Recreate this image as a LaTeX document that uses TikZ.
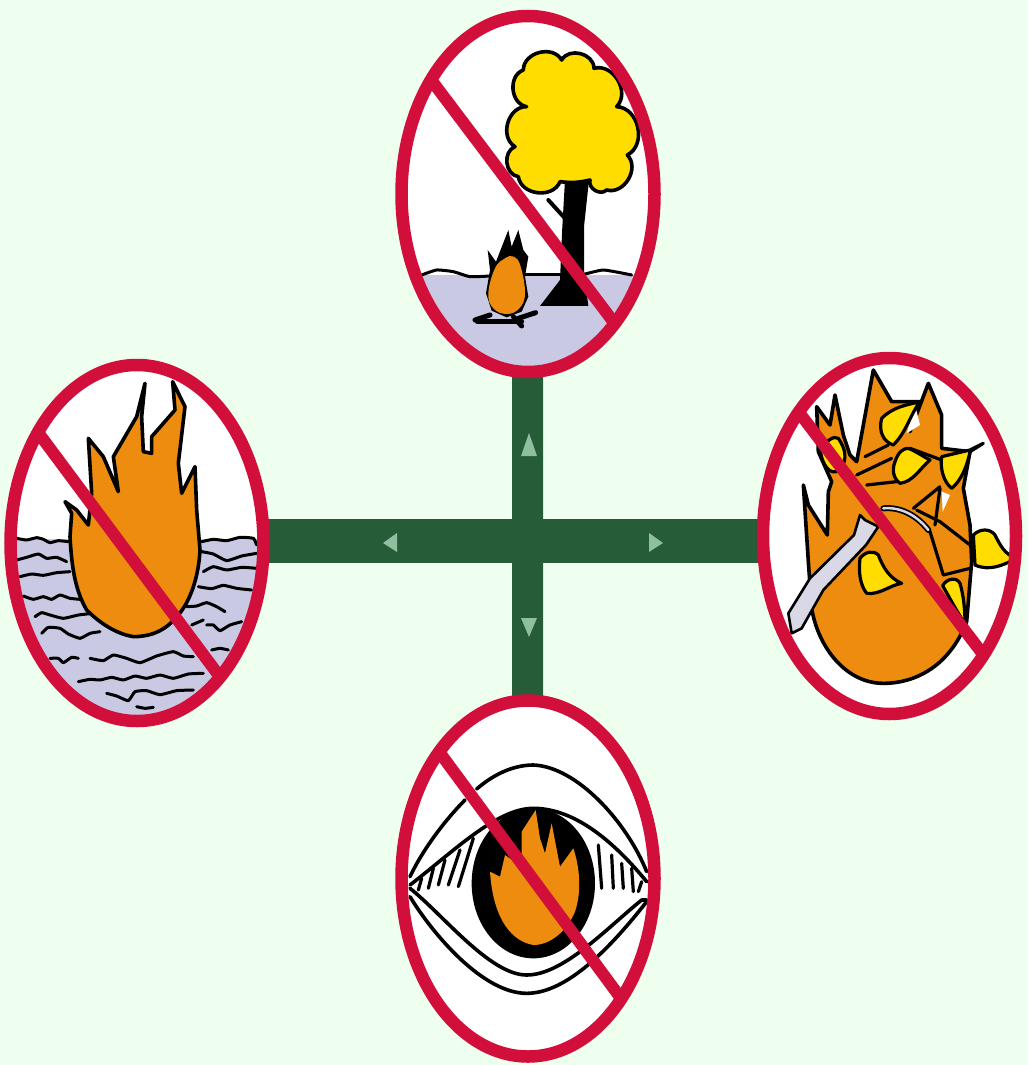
\documentclass[tikz,border=0pt]{standalone}
\usetikzlibrary{shapes.geometric}
\definecolor{bgc}{HTML}{EFFFEF}
\definecolor{barc}{HTML}{265C38}
\definecolor{tric}{HTML}{8FBFA0}
\definecolor{redc}{HTML}{D20F3A}
\definecolor{orangec}{HTML}{EE8C10}
\definecolor{yellowc}{HTML}{FFDD00}
\definecolor{lavc}{HTML}{C9C9E4}
\definecolor{branchc}{HTML}{D8D8E6}
\tikzset{
  sign/.style={ellipse,fill=white,inner sep=0pt,minimum width=253pt,minimum height=356pt},
  ring/.style={draw=redc,line width=12.5pt},
  slash/.style={draw=redc,line width=12pt},
  vbar/.style={draw=barc,line width=31pt},
  hbar/.style={draw=barc,line width=44pt},
  tri/.style={fill=tric},
  traced/.style={x=.33333pt,y=-.33333pt,line join=round,line cap=round},
  ink/.style={draw=black,line width=3.6pt},
  thin ink/.style={draw=black,line width=3.2pt},
  wave/.style={draw=black,line width=3pt},
  lobe/.style={bend left=75,looseness=1.15},
}
\newcommand{\ringat}[1]{\draw[ring] (#1.center) ellipse [x radius=126.5pt,y radius=178pt];}
\newcommand{\clipat}[1]{\clip (#1.center) ellipse [x radius=126.5pt,y radius=178pt];}
\newcommand{\wv}[1]{\draw[wave] plot[smooth,tension=.3] coordinates {#1};}
\begin{document}
\begin{tikzpicture}[x=1pt,y=-1pt]
\useasboundingbox (0,0) rectangle (1028,1065);
\fill[bgc] (0,0) rectangle (1028,1065);
\coordinate (hub) at (527.5,541);
\node[sign] (top) at (528,194) {};
\node[sign] (right) at (889.5,536) {};
\node[sign] (left) at (137,543) {};
\node[sign] (bottom) at (528,878.5) {};
% connectors
\draw[vbar] (hub) -- (top);
\draw[vbar] (hub) -- (bottom);
\draw[hbar] (hub) -- (left.east |- hub);
\draw[hbar] (hub) -- (right.west |- hub);
% arrow marks
\fill[tri] (529,433) -- (537,456) -- (521,456) -- cycle;
\fill[tri] (521,618) -- (537,618) -- (529,637) -- cycle;
\fill[tri] (397,533) -- (397,552) -- (383,543) -- cycle;
\fill[tri] (649,533) -- (649,552) -- (663,543) -- cycle;

% ---------- top: tree and camp fire
\begin{scope}
\clipat{top}
\begin{scope}[shift={(390,0)},traced]
\fill[lavc] (40,825) -- (790,825) -- (790,1140) -- (40,1140) -- cycle;
\wv{(95,825) (140,810) (190,815) (240,830) (300,828)}
\wv{(400,825) (460,825) (530,825)}
\wv{(575,825) (640,810) (725,825)}
\fill[black] (525,540) -- (597,540) -- (582,680) -- (582,810) -- (595,918) -- (450,918) -- (510,840) -- (517,680) -- cycle;
\draw[black,line width=4pt] (475,600) -- (525,655);
\draw[ink,fill=yellowc] (400,210) to[lobe] (515,180) to[lobe] (612,205) to[lobe] (680,320) to[lobe] (712,465) to[lobe] (650,570) to[lobe] (600,540) to[bend left=10] (510,545) to[lobe] (385,530) to[lobe] (375,440) to[lobe] (410,320) to[lobe] (400,210) -- cycle;
\fill[black] (288,880) -- (300,810) -- (293,750) -- (318,785) -- (355,690) -- (365,740) -- (385,690) -- (400,750) -- (415,770) -- (405,830) -- (415,890) -- (395,935) -- (350,952) -- (305,932) -- cycle;
\fill[orangec] plot[smooth cycle,tension=.7] coordinates {(295,880) (315,805) (345,775) (372,770) (392,800) (405,880) (388,925) (350,942) (310,925)};
\draw[black,line width=5pt] (255,960) -- (300,945);
\draw[black,line width=5pt] (262,965) -- (395,965);
\draw[black,line width=5pt] (395,978) -- (370,950);
\draw[black,line width=5pt] (437,938) -- (385,955);
\end{scope}
\end{scope}

% ---------- right: leaves and branch on fire
\begin{scope}
\clipat{right}
\begin{scope}[shift={(750,345)},traced]
\draw[ink,fill=orangec] (160,420) -- (175,480) -- (232,570) -- (235,440) -- (245,410) -- (205,320) -- (200,185) -- (240,240) -- (255,150) -- (280,270) -- (300,330) -- (320,350) -- (370,75) -- (425,170) -- (510,170) -- (480,260) -- (535,115) -- (575,210) -- (575,310) -- (660,320) -- (640,430) -- (660,540) -- (665,650) -- (650,830) .. controls (600,960) and (500,1015) .. (400,1015) .. controls (290,1015) and (205,910) .. (185,790) -- (175,650) -- cycle;
\fill[white] (495,180) -- (470,265) -- (510,240) -- cycle;
\fill[white] (578,500) -- (600,450) -- (575,440) -- cycle;
\draw[thin ink] (320,390) -- (425,340);
\draw[thin ink] (345,335) -- (415,300);
\draw[thin ink] (350,420) -- (440,410);
\draw[thin ink] (480,310) -- (575,345);
\draw[thin ink] (490,490) -- (570,425);
\draw[thin ink] (500,495) -- (570,530) -- (660,600);
\draw[thin ink] (570,430) -- (555,540);
\draw[thin ink] (540,560) -- (580,690) -- (660,670);
\draw[thin ink,fill=yellowc] (395,220) .. controls (430,185) and (470,180) .. (510,170) .. controls (480,210) and (470,260) .. (430,300) .. controls (400,290) and (385,260) .. (395,220) -- cycle;
\draw[thin ink,fill=yellowc] (435,350) .. controls (445,320) and (460,310) .. (475,310) .. controls (500,320) and (520,335) .. (540,345) .. controls (510,370) and (490,410) .. (450,415) .. controls (430,400) and (425,375) .. (435,350) -- cycle;
\draw[thin ink,fill=yellowc] (575,335) -- (660,315) -- (700,295) -- (660,320) .. controls (650,370) and (630,410) .. (605,430) .. controls (580,410) and (570,370) .. (575,335) -- cycle;
\draw[thin ink,fill=yellowc] (670,570) .. controls (690,550) and (720,550) .. (735,570) .. controls (750,600) and (765,630) .. (800,640) .. controls (760,660) and (720,680) .. (675,660) -- cycle;
\draw[thin ink,fill=yellowc] (330,640) .. controls (345,620) and (370,615) .. (385,630) .. controls (400,670) and (420,700) .. (455,715) .. controls (420,720) and (390,750) .. (350,745) .. controls (330,720) and (325,680) .. (330,640) -- cycle;
\draw[thin ink,fill=yellowc] (578,722) .. controls (590,700) and (620,695) .. (630,715) .. controls (640,750) and (645,790) .. (645,835) .. controls (620,800) and (600,760) .. (578,722) -- cycle;
\draw[thin ink,fill=yellowc] (210,310) .. controls (230,290) and (250,270) .. (265,280) .. controls (285,310) and (295,340) .. (270,375) .. controls (240,395) and (215,360) .. (210,310) -- cycle;
\draw[draw=black,line width=2.6pt,fill=branchc] (115,805) -- (180,700) -- (312,570) -- (330,510) -- (345,525) -- (385,545) -- (348,600) -- (220,735) -- (155,850) -- (125,865) -- cycle;
\draw[black,line width=6pt] (400,490) .. controls (450,485) and (500,510) .. (535,555);
\draw[branchc,line width=2.5pt] (400,490) .. controls (450,485) and (500,510) .. (535,555);
\end{scope}
\end{scope}

% ---------- left: flame on water
\begin{scope}
\clipat{left}
\begin{scope}[shift={(0,350)},traced]
\fill[lavc] (0,568) -- (840,568) -- (840,1150) -- (0,1150) -- cycle;
\wv{(50,565) (80,570) (110,563) (130,568) (150,578) (175,572) (205,575)}
\wv{(50,630) (80,622) (115,612) (140,625) (170,622) (200,635)}
\wv{(60,680) (95,672) (130,676) (170,668) (210,665)}
\wv{(70,738) (100,748) (130,740) (155,748) (180,735) (210,745) (240,748)}
\wv{(105,800) (125,788) (150,795) (190,805) (235,795) (280,790)}
\wv{(125,850) (145,832) (180,835) (205,852) (240,865) (270,850) (300,845)}
\wv{(150,925) (175,925) (190,938) (215,922) (235,925)}
\wv{(270,925) (310,932) (340,915) (380,925) (420,938) (470,918) (520,905) (550,918) (580,920)}
\wv{(235,995) (270,988) (300,990) (335,982) (370,990) (405,978) (440,985) (480,975) (520,985) (565,972) (610,970)}
\wv{(320,1030) (350,1038) (385,1052) (405,1025) (440,1022) (480,1034) (530,1022) (580,1020)}
\wv{(410,1070) (435,1075) (460,1072)}
\wv{(605,575) (640,568) (680,572) (720,562) (760,565) (770,585)}
\wv{(605,605) (640,612) (680,632) (725,618) (770,610)}
\wv{(610,665) (640,650) (680,660) (725,652) (770,655)}
\wv{(595,710) (635,716) (670,706) (710,715) (755,720)}
\wv{(560,770) (590,768) (620,758) (650,770) (675,785)}
\wv{(575,825) (610,810)}
\wv{(620,825) (640,825) (660,842) (690,825) (725,815)}
\wv{(635,900) (660,895) (685,900)}
\draw[ink,fill=orangec] (195,455) -- (230,480) -- (265,525) -- (275,430) -- (265,265) -- (310,320) -- (355,425) -- (340,320) -- (410,200) -- (435,100) -- (425,200) -- (430,305) -- (455,310) -- (455,260) -- (525,180) -- (518,95) -- (555,170) -- (535,340) -- (545,430) -- (585,350) -- (590,480) -- (600,600) .. controls (595,700) and (560,770) .. (530,800) .. controls (490,850) and (440,860) .. (400,860) .. controls (340,850) and (290,810) .. (260,780) .. controls (225,720) and (215,650) .. (210,560) -- (215,490) -- cycle;
\end{scope}
\end{scope}

% ---------- bottom: eye with flame
\begin{scope}
\clipat{bottom}
\begin{scope}[shift={(390,685)},traced]
\draw[ink] (60,575) .. controls (100,490) and (170,400) .. (225,345);
\draw[ink] (260,312) .. controls (320,260) and (380,240) .. (430,240) .. controls (560,245) and (710,410) .. (770,560);
\draw[ink] (60,600) .. controls (190,500) and (320,370) .. (430,370) .. controls (560,370) and (680,480) .. (770,590);
\draw[ink] (60,610) .. controls (160,690) and (300,870) .. (410,870) .. controls (520,870) and (650,730) .. (755,645) -- (770,645);
\draw[ink] (60,635) .. controls (130,750) and (280,925) .. (410,925) .. controls (530,925) and (660,790) .. (770,650);
\fill[black] (430,595) ellipse [x radius=185,y radius=225];
\fill[orangec] (300,560) -- (330,575) -- (345,510) -- (395,545) -- (395,440) -- (437,375) -- (450,460) -- (465,505) -- (485,415) -- (510,545) -- (550,490) .. controls (570,550) and (575,620) .. (555,680) .. controls (530,740) and (480,780) .. (430,780) .. controls (370,770) and (310,710) .. (300,560) -- cycle;
\foreach \lx/\ly/\mx/\my in {95/580/85/615,130/550/115/610,165/525/145/600,210/495/175/600,250/460/205/605,625/480/635/610,665/510/670/610,695/535/700/610,725/550/730/620,755/590/745/620}{
  \draw[black,line width=3.2pt] (\lx,\ly) -- (\mx,\my);
}
\end{scope}
\end{scope}

% ---------- red rings and slashes
\ringat{top}
\ringat{right}
\ringat{left}
\ringat{bottom}
\coordinate (topA) at (432,81);      \coordinate (topB) at (615,324);
\coordinate (rightA) at (801,415);   \coordinate (rightB) at (982,653);
\coordinate (leftA) at (37,431);     \coordinate (leftB) at (220,677);
\coordinate (bottomA) at (440,753);  \coordinate (bottomB) at (620,997);
\draw[slash] (topA) -- (topB);
\draw[slash] (rightA) -- (rightB);
\draw[slash] (leftA) -- (leftB);
\draw[slash] (bottomA) -- (bottomB);
\end{tikzpicture}
\end{document}
